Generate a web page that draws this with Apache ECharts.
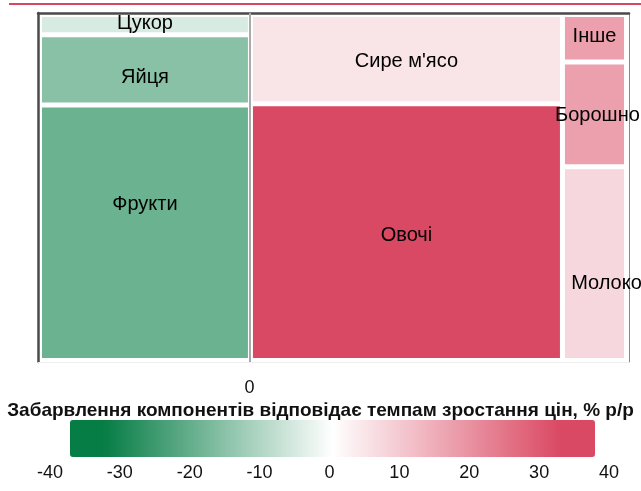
<!DOCTYPE html>
<html>
<head>
<meta charset="utf-8">
<script src="https://cdn.jsdelivr.net/npm/echarts@6.0.0/dist/echarts.min.js"></script>
<style>
  html, body { margin: 0; padding: 0; background: #fff; }
  #chart { width: 641px; height: 491px; }
</style>
</head>
<body>
<div id="chart"></div>
<script>
// Components of the basket, their weight (area) and price growth, % y/y (colour)
const categories = ['Цукор', 'Яйця', 'Фрукти', "Сире м'ясо", 'Овочі', 'Інше', 'Борошно', 'Молоко'];
const weights = [2.1, 7.3, 26.5, 13.7, 39.4, 1.5, 3.3, 6.1];
const growth = [-5.1, -15.6, -19.3, 4.9, 36, 17, 17, 7.1];
// which column of the treemap each component sits in
const columnOf = [0, 0, 0, 1, 1, 2, 2, 2];
const colorTicks = [-40, -30, -20, -10, 0, 10, 20, 30, 40];

const FONT = 'Liberation Sans, Arial, sans-serif';
const GREEN = '#077d46';
const RED = '#da4963';

// label tweaks so the names sit where they do in the original picture
const labelNudge = {
    'Цукор': [0, -1],
    'Яйця': [0, 8],
    'Фрукти': [0, -28],
    "Сире м'ясо": [0, 2],
    'Овочі': [0, 3],
    'Інше': [0, -2],
    'Борошно': [3, 1],
    'Молоко': [12, 20]
};

// colour scale: saturated below -32.5 and above 32.5, white at 0
const scaleMin = -37.5;
const scaleMax = 37.5;
const palette = [];
for (let v = scaleMin; v <= scaleMax + 1e-9; v += 2.5) {
    let t = (v + 32.5) / 65;
    t = Math.max(0, Math.min(1, t));
    palette.push(echarts.color.lerp(t, [GREEN, '#ffffff', RED]));
}

// build the tree: one parent per column
const columns = [];
categories.forEach(function (name, i) {
    const c = columnOf[i];
    if (!columns[c]) {
        columns[c] = { name: '', children: [] };
    }
    const node = { name: name, value: [weights[i], growth[i]] };
    if (labelNudge[name]) {
        node.label = { offset: labelNudge[name] };
    }
    columns[c].children.push(node);
});

const chart = echarts.init(document.getElementById('chart'));

// plain frame axis (no labels, no ticks)
function frameAxis(extra) {
    return Object.assign({
        gridIndex: 0,
        type: 'value',
        min: 0,
        max: 1,
        axisTick: { show: false },
        axisLabel: { show: false },
        splitLine: { show: false }
    }, extra);
}

const option = {
    animation: false,
    textStyle: { fontFamily: FONT },
    title: {
        text: 'Забарвлення компонентів відповідає темпам зростання цін, % р/р',
        left: 'center',
        top: 401,
        padding: 0,
        textStyle: { fontSize: 19, fontWeight: 'bold', color: '#111', fontFamily: FONT }
    },
    graphic: [{
        type: 'rect',
        shape: { x: 9, y: 3, width: 632, height: 2 },
        style: { fill: '#d9475f' },
        silent: true
    }],
    grid: [
        { left: 38, top: 13, width: 591, height: 349 },
        { left: 50, top: 420, width: 559, height: 37 }
    ],
    xAxis: [
        {
            gridIndex: 0,
            type: 'value',
            min: -35.8,
            max: 64.2,
            axisLine: { show: true, onZero: false, lineStyle: { color: '#eeeeee', width: 1 } },
            axisTick: { show: false },
            splitLine: { show: false },
            axisLabel: { customValues: [0], fontSize: 18, color: '#111', margin: 17, fontFamily: FONT }
        },
        frameAxis({
            position: 'top',
            axisLine: { show: true, onZero: false, lineStyle: { color: '#4a4a4a', width: 2.5 } }
        }),
        {
            gridIndex: 1,
            type: 'value',
            min: colorTicks[0],
            max: colorTicks[colorTicks.length - 1],
            interval: 10,
            axisLine: { show: false },
            axisTick: { show: false },
            splitLine: { show: false },
            axisLabel: { fontSize: 18, color: '#111', margin: 7, fontFamily: FONT }
        }
    ],
    yAxis: [
        frameAxis({
            axisLine: { show: true, onZero: false, lineStyle: { color: '#4a4a4a', width: 2.5 } }
        }),
        frameAxis({
            position: 'right',
            axisLine: { show: true, onZero: false, lineStyle: { color: '#888888', width: 1 } }
        }),
        { gridIndex: 1, type: 'value', show: false }
    ],
    visualMap: {
        type: 'continuous',
        seriesIndex: 1,
        orient: 'horizontal',
        min: scaleMin,
        max: scaleMax,
        left: 70,
        top: 420,
        padding: 0,
        itemWidth: 37,
        itemHeight: 525,
        calculable: false,
        hoverLink: false,
        text: null,
        inRange: { color: palette }
    },
    series: [
        {
            type: 'treemap',
            left: 42,
            top: 17,
            width: 582,
            height: 341,
            sort: false,
            squareRatio: 0.01,
            roam: false,
            nodeClick: false,
            breadcrumb: { show: false },
            z: 3,
            label: {
                show: true,
                position: 'inside',
                color: '#000',
                fontSize: 20,
                lineHeight: 12,
                padding: 0,
                fontFamily: FONT,
                overflow: 'none'
            },
            levels: [
                { itemStyle: { borderWidth: 0, gapWidth: 5, borderColor: '#fff' } },
                {
                    color: palette,
                    colorMappingBy: 'value',
                    visualDimension: 1,
                    visualMin: scaleMin,
                    visualMax: scaleMax,
                    itemStyle: { borderWidth: 0, gapWidth: 5, borderColor: '#fff' }
                },
                { itemStyle: { borderWidth: 0 } }
            ],
            data: columns
        },
        {
            type: 'line',
            xAxisIndex: 0,
            yAxisIndex: 0,
            data: [],
            z: 10,
            markLine: {
                silent: true,
                symbol: 'none',
                label: { show: false },
                lineStyle: { color: '#aaaaaa', width: 2, type: 'solid' },
                data: [{ xAxis: 0 }]
            }
        }
    ]
};

chart.setOption(option);
</script>
</body>
</html>
